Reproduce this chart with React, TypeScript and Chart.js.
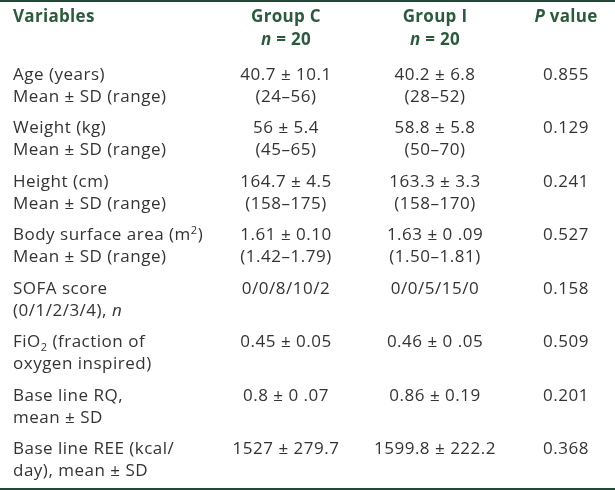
import React, { useEffect, useRef } from "react";
import { Chart, registerables } from "chart.js";

Chart.register(...registerables);

// ---- Data ----
const headers = ["Variables", "Group C", "Group I", "_P_ value"];
const headerSub = ["", "_n_ = 20", "_n_ = 20", ""];
const variables: string[][] = [
  ["Age (years)", "Mean ± SD (range)"],
  ["Weight (kg)", "Mean ± SD (range)"],
  ["Height (cm)", "Mean ± SD (range)"],
  ["Body surface area (m^2)", "Mean ± SD (range)"],
  ["SOFA score", "(0/1/2/3/4), _n_"],
  ["FiO~2 (fraction of", "oxygen inspired)"],
  ["Base line RQ,", "mean ± SD"],
  ["Base line REE (kcal/", "day), mean ± SD"],
];
const groupC: string[][] = [
  ["40.7 ± 10.1", "(24–56)"],
  ["56 ± 5.4", "(45–65)"],
  ["164.7 ± 4.5", "(158–175)"],
  ["1.61 ± 0.10", "(1.42–1.79)"],
  ["0/0/8/10/2", ""],
  ["0.45 ± 0.05", ""],
  ["0.8 ± 0 .07", ""],
  ["1527 ± 279.7", ""],
];
const groupI: string[][] = [
  ["40.2 ± 6.8", "(28–52)"],
  ["58.8 ± 5.8", "(50–70)"],
  ["163.3 ± 3.3", "(158–170)"],
  ["1.63 ± 0 .09", "(1.50–1.81)"],
  ["0/0/5/15/0", ""],
  ["0.46 ± 0 .05", ""],
  ["0.86 ± 0.19", ""],
  ["1599.8 ± 222.2", ""],
];
const pValues: string[] = ["0.855", "0.129", "0.241", "0.527", "0.158", "0.509", "0.201", "0.368"];

const FONT = '"Open Sans", sans-serif';
const BODY_COLOR = "#333333";
const HEAD_COLOR = "#2c5a3c";
const RULE_COLOR = "#1f4a36";

type Seg = { t: string; italic?: boolean; sup?: boolean; sub?: boolean };

function parse(s: string): Seg[] {
  const out: Seg[] = [];
  let i = 0;
  let buf = "";
  let italic = false;
  while (i < s.length) {
    const c = s[i];
    if (c === "_") {
      if (buf) out.push({ t: buf, italic });
      buf = "";
      italic = !italic;
      i++;
    } else if (c === "^" || c === "~") {
      if (buf) out.push({ t: buf, italic });
      buf = "";
      out.push({ t: s[i + 1], sup: c === "^", sub: c === "~" });
      i += 2;
    } else {
      buf += c;
      i++;
    }
  }
  if (buf) out.push({ t: buf, italic });
  return out;
}

function fontFor(seg: Seg, size: number, bold: boolean) {
  const sz = seg.sup || seg.sub ? Math.round(size * 0.62) : size;
  return `${seg.italic ? "italic " : ""}${bold ? "bold " : ""}${sz}px ${FONT}`;
}

function drawRich(
  ctx: CanvasRenderingContext2D,
  s: string,
  x: number,
  y: number,
  align: "left" | "center",
  size: number,
  bold: boolean,
  color: string,
  spacing: number
) {
  const segs = parse(s);
  (ctx as any).letterSpacing = `${spacing}px`;
  let w = 0;
  const widths = segs.map((g) => {
    ctx.font = fontFor(g, size, bold);
    const m = ctx.measureText(g.t).width;
    w += m;
    return m;
  });
  let cx = align === "center" ? x - w / 2 : x;
  ctx.fillStyle = color;
  ctx.textAlign = "left";
  ctx.textBaseline = "middle";
  segs.forEach((g, k) => {
    ctx.font = fontFor(g, size, bold);
    let dy = 0;
    if (g.sup) dy = -size * 0.3;
    if (g.sub) dy = size * 0.3;
    ctx.fillText(g.t, cx, y + dy);
    cx += widths[k];
  });
  (ctx as any).letterSpacing = "0px";
}

const tablePlugin = {
  id: "tablePlugin",
  afterDraw(chart: any) {
    const ctx: CanvasRenderingContext2D = chart.ctx;
    const W = chart.width;
    const H = chart.height;
    ctx.save();
    ctx.fillStyle = "#ffffff";
    ctx.fillRect(0, 0, W, H);

    // rules
    ctx.fillStyle = RULE_COLOR;
    ctx.fillRect(0, 0, W, 2);
    ctx.fillRect(0, H - 2, W, 2);

    const colX = [13, 286, 435, 566];
    const size = 17;
    const spacing = 0.5;

    // header
    headers.forEach((h, i) => {
      drawRich(ctx, h, colX[i], 17, i === 0 ? "left" : "center", size, true, HEAD_COLOR, 0.3);
    });
    headerSub.forEach((h, i) => {
      if (h) drawRich(ctx, h, colX[i], 40, "center", size, true, HEAD_COLOR, 0.3);
    });

    const yScale = chart.scales.y;
    variables.forEach((lines, r) => {
      const y0 = yScale.getPixelForValue(r);
      const lineGap = 22;
      lines.forEach((ln, k) => drawRich(ctx, ln, colX[0], y0 + k * lineGap, "left", size, false, BODY_COLOR, spacing));
      groupC[r].forEach((ln, k) => ln && drawRich(ctx, ln, colX[1], y0 + k * lineGap, "center", size, false, BODY_COLOR, spacing));
      groupI[r].forEach((ln, k) => ln && drawRich(ctx, ln, colX[2], y0 + k * lineGap, "center", size, false, BODY_COLOR, spacing));
      drawRich(ctx, pValues[r], colX[3], y0, "center", size, false, BODY_COLOR, spacing);
    });
    ctx.restore();
  },
};

export default function App() {
  const ref = useRef<HTMLCanvasElement>(null);
  useEffect(() => {
    document.body.style.margin = "0";
    const chart = new Chart(ref.current!, {
      type: "scatter",
      data: { datasets: [] },
      options: {
        animation: false,
        responsive: false,
        devicePixelRatio: 1,
        layout: { padding: 0 },
        plugins: { legend: { display: false }, tooltip: { enabled: false } },
        scales: {
          x: { display: false, min: 0, max: 1 },
          // row index scale: row 0 at ~75px, 53.5px per row
          y: { display: false, reverse: true, min: -75 / 53.5, max: (490 - 75) / 53.5 },
        },
      },
      plugins: [tablePlugin],
    });
    return () => chart.destroy();
  }, []);
  return <canvas ref={ref} width={615} height={490} style={{ display: "block" }} />;
}
